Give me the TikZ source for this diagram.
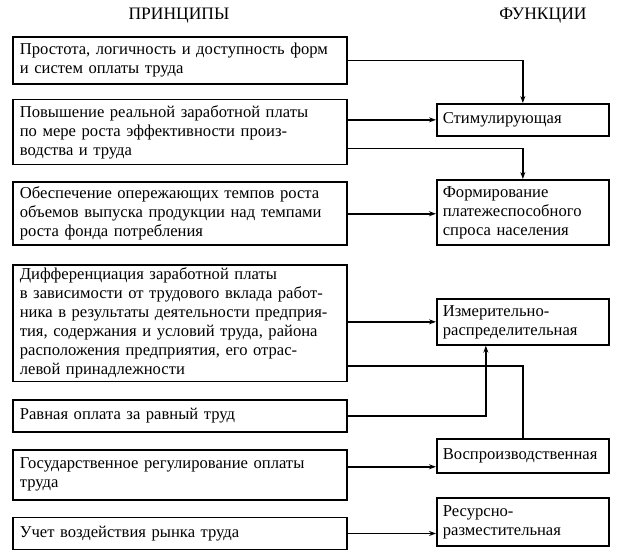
\documentclass[tikz,border=0pt]{standalone}
\usepackage{fontspec}
\setmainfont{Liberation Serif}
\newfontfamily\boxfont{Liberation Serif}
\usetikzlibrary{positioning}
\usetikzlibrary{arrows.meta}

\begin{document}
\begin{tikzpicture}[
    x=1pt, y=1pt,
    principle/.style={draw, line width=1.7pt, text width=320pt, align=left,
        inner xsep=7pt, inner ysep=3pt, font=\boxfont\fontsize{16.6}{19}\selectfont},
    function/.style={draw, line width=1.7pt, text width=160pt, align=left,
        inner xsep=6pt, inner ysep=3pt, anchor=north west, font=\boxfont\fontsize{16.6}{19}\selectfont},
    header/.style={font=\boxfont\fontsize{17.5}{20}\selectfont},
    arrowline/.style={-{Stealth[length=7pt,width=5pt]}, line width=1.5pt},
    plainline/.style={-, line width=1.5pt},
    node distance=15pt
    ]
    \useasboundingbox (0,0) rectangle (628,-553);

    %Headers
    \node[header] (hp) at (179,-16) {ПРИНЦИПЫ};
    \node[header] (hf) at (543,-16) {ФУНКЦИИ};

    %Principles
    \node[principle, anchor=north west, minimum height=47pt] (p1) at (12,-36)
        {Простота, логичность и доступность форм\\и систем оплаты труда};
    \node[principle, minimum height=65pt] (p2) [below=14pt of p1]
        {Повышение реальной заработной платы\\по мере роста эффективности произ-\\водства и труда};
    \node[principle, minimum height=63pt] (p3) [below=16pt of p2]
        {Обеспечение опережающих темпов роста\\объемов выпуска продукции над темпами\\роста фонда потребления};
    \node[principle, minimum height=116pt] (p4) [below=18pt of p3]
        {Дифференциация заработной платы\\в зависимости от трудового вклада работ-\\ника в результаты деятельности предприя-\\тия, содержания и условий труда, района\\расположения предприятия, его отрас-\\левой принадлежности};
    \node[principle, minimum height=32pt] (p5) [below=17pt of p4]
        {Равная оплата за равный труд};
    \node[principle, minimum height=50pt] (p6) [below=16pt of p5]
        {Государственное регулирование оплаты\\труда};
    \node[principle, minimum height=32pt] (p7) [below=16pt of p6]
        {Учет воздействия рынка труда};

    %Functions
    \node[function, minimum height=32pt] (f1) at (436,-103) {Стимулирующая};
    \node[function, minimum height=65pt] (f2) at (436,-179)
        {Формирование\\платежеспособного\\спроса населения};
    \node[function, minimum height=46pt] (f3) at (436,-298)
        {Измерительно-\\распределительная};
    \node[function, minimum height=34pt] (f4) at (436,-438) {Воспроизводственная};
    \node[function, minimum height=48pt] (f5) at (436,-497)
        {Ресурсно-\\разместительная};

    %Junctions
    \coordinate (j1) at ([yshift=17pt]p2.south east);
    \coordinate (j2) at ([yshift=16pt]p4.south east);
    \coordinate (j3) at ([xshift=-37pt]f3.south);

    %Lines
    \draw[arrowline] (p1.east) -| (f1.north);
    \draw[arrowline] (p2.east |- f1.west) -- (f1.west);
    \draw[arrowline] (j1) -| (f2.north);
    \draw[arrowline] (p3.east) -- (p3.east -| f2.west);
    \draw[arrowline] (p4.east |- f3.west) -- (f3.west);
    \draw[plainline] (j2) -| (f4.north);
    \draw[arrowline] (p5.east) -| (j3);
    \draw[arrowline] ([yshift=8pt]p6.east) -- ([yshift=8pt]p6.east -| f4.west);
    \draw[arrowline] (p7.east) -- (p7.east -| f5.west);

\end{tikzpicture}
\end{document}
